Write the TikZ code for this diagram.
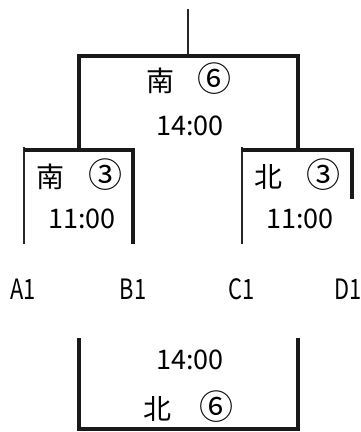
\documentclass[tikz,border=0pt]{standalone}
\usepackage{fontspec}
\newfontfamily\cjk{Noto Sans CJK JP}
\newfontfamily\cjknarrow[FakeStretch=0.78]{Noto Sans CJK JP}
\newcommand\encircled[1]{{\fontsize{34}{34}\selectfont #1}}
\begin{document}
\begin{tikzpicture}[x=1pt,y=-1pt,
    lossline/.style={line width=1.6pt,color=black!85},
    winline/.style={line width=3.2pt,color=black!90},
    kanji/.style={font=\cjk\fontsize{28}{28}\selectfont,inner sep=0pt},
    digits/.style={font=\cjk\fontsize{27}{27}\selectfont,inner sep=0pt},
    entrant/.style={font=\cjknarrow\fontsize{28}{28}\selectfont,inner sep=0pt}]
  \useasboundingbox (0,0) rectangle (361,432);

  % Drawing the final stem
  \draw [lossline] (188,9) -- (188,56);%

  % Drawing the final bracket (winner 南)
  \draw [winline] (79,152) -- (79,56) -- (298,56) -- (298,152);%
  \node [kanji] (finalteam) at (189,79) {南\hspace{24pt}\encircled{⑥}};%
  \node [digits] (finaltime) at (190,126) {14:00};%

  % Drawing semifinal bracket A1 - B1
  \draw [lossline] (24,147) -- (24,244);%
  \draw [winline] (24,150) -- (133,150) -- (133,244);%
  \node [kanji] (semiAteam) at (80,175) {南\hspace{24pt}\encircled{③}};%
  \node [digits] (semiAtime) at (82,219) {11:00};%

  % Drawing semifinal bracket C1 - D1
  \draw [lossline] (242,147) -- (242,244);%
  \draw [winline] (242,150) -- (352,150) -- (352,199);%
  \node [kanji] (semiCteam) at (297,175) {北\hspace{24pt}\encircled{③}};%
  \node [digits] (semiCtime) at (300,219) {11:00};%

  % Marking the entrants
  \node [entrant] (entA) at (23,289) {A1};%
  \node [entrant] (entB) at (133,289) {B1};%
  \node [entrant] (entC) at (242,289) {C1};%
  \node [entrant] (entD) at (348,289) {D1};%

  % Drawing the losers' bracket (winner 北)
  \draw [winline] (79,338) -- (79,429) -- (298,429) -- (298,338);%
  \node [digits] (thirdtime) at (190,360) {14:00};%
  \node [kanji] (thirdteam) at (188,407) {北\hspace{28pt}\encircled{⑥}};%
\end{tikzpicture}
\end{document}
